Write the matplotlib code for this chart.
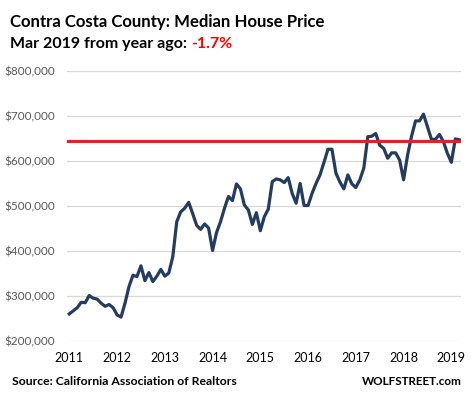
import matplotlib
matplotlib.use("Agg")
import matplotlib.pyplot as plt
import numpy as np

# monthly median price, Jan 2011 - Mar 2019 (thousands of $)
prices_k = [
    259, 266, 273, 285, 284, 300, 294, 292, 283, 276, 280, 273,   # 2011
    257, 252, 283, 320, 345, 342, 366, 333, 351, 331, 343, 358,   # 2012
    343, 350, 386, 464, 486, 494, 507, 482, 456, 447, 459, 450,   # 2013
    400, 440, 464, 494, 520, 511, 548, 537, 501, 490, 458, 484,   # 2014
    444, 475, 492, 553, 559, 557, 551, 562, 527, 505, 549, 500,   # 2015
    500, 527, 549, 568, 596, 625, 625, 572, 552, 537, 568, 548,   # 2016
    540, 557, 583, 653, 654, 660, 634, 627, 605, 617, 617, 601,   # 2017
    557, 612, 654, 688, 688, 703, 675, 647, 647, 658, 642, 616,   # 2018
    596, 648, 646,                                                # 2019
]
years = ['2011', '2012', '2013', '2014', '2015', '2016', '2017', '2018', '2019']
y_ticks = [200000, 300000, 400000, 500000, 600000, 700000, 800000]
ref_level = 643000   # red line: latest level

prices = np.array(prices_k) * 1000
months = np.arange(len(prices))

plt.rcParams['font.family'] = ['Lato', 'DejaVu Sans']

fig = plt.figure(figsize=(4.71, 3.97), dpi=100)
ax = fig.add_axes([0.1429, 0.1423, 0.8365, 0.6801])

for t in y_ticks:
    ax.axhline(t, color='#d9d9d9', linewidth=0.9, zorder=1)

ax.plot(months, prices, color='#243c5f', linewidth=2.3, zorder=3,
        solid_joinstyle='round')
ax.axhline(ref_level, color='#ee1c25', linewidth=2.3, zorder=4)

ax.set_xlim(-0.5, len(prices) - 0.5)
ax.set_ylim(200000, 800000)
ax.set_yticks(y_ticks)
ax.set_yticklabels(['${:,.0f}'.format(t) for t in y_ticks],
                   fontsize=8.5, color='#595959')
ax.set_xticks(np.arange(0, len(prices), 12))
ax.set_xticklabels(years, fontsize=9, color='#000000')
ax.tick_params(length=0, pad=8)
ax.tick_params(axis='y', pad=9)
for s in ax.spines.values():
    s.set_visible(False)

fig.text(0.021, 0.933, 'Contra Costa County: Median House Price',
         fontsize=12.1, fontweight='bold', va='baseline')
t1 = fig.text(0.021, 0.878, 'Mar 2019 from year ago: ',
              fontsize=11.5, fontweight='bold', va='baseline')
fig.canvas.draw()
bb = t1.get_window_extent()
fig.text(bb.x1 / fig.bbox.width, 0.878, '-1.7%', color='#ff0000',
         fontsize=11.5, fontweight='bold', va='baseline')

fig.text(0.025, 0.038, 'Source: California Association of Realtors',
         fontsize=8.8, fontweight='bold', va='center')
fig.text(0.981, 0.038, 'WOLFSTREET.com', fontsize=8.4, fontweight='bold',
         va='center', ha='right')

fig.savefig('out.png', dpi=100)
